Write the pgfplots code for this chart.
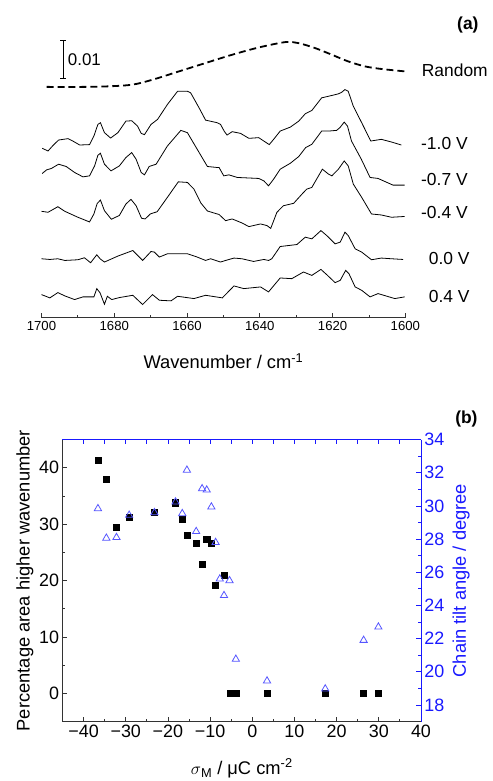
\documentclass[border=0pt]{standalone}
\usepackage{pgfplots}
\pgfplotsset{compat=1.18}
\usepackage{fontspec}
\setmainfont{Liberation Sans}
\definecolor{myblue}{RGB}{25,25,255}
\definecolor{triblue}{RGB}{85,85,255}
\begin{document}
\begin{tikzpicture}
\path (0pt,0pt) rectangle (495pt,-781pt);
% ---------------- panel (a) ----------------
\begin{axis}[
  at={(41.7pt,-319.3pt)}, anchor=south west,
  scale only axis, width=365.6pt, height=284.3pt,
  xmin=1600, xmax=1700, x dir=reverse,
  ymin=10.7, ymax=295,
  hide y axis, axis x line*=bottom, axis line style={-, line width=0.8pt, black!80},
  xtick={1600,1620,...,1700}, minor xtick={1610,1630,...,1690},
  xticklabels={1600,1620,1640,1660,1680,1700},
  tick align=inside, major tick length=5pt, minor tick length=2.7pt,
  tick style={line width=0.8pt, black!80},
  tick label style={font=\fontsize{13.2}{15}\selectfont},
  xlabel={Wavenumber / cm\textsuperscript{-1}},
  xlabel style={font=\fontsize{18.4}{20}\selectfont, at={(axis description cs:0.5,-0.154)}, anchor=center},
  clip=false,
]
\addplot[black, line width=1.8pt, dash pattern=on 7pt off 4pt, smooth] coordinates {
(1698.6,242.7) (1688.6,242.7) (1681.3,243.3) (1674.9,245) (1669.4,250) (1662.2,258.3) (1654.9,266.7) (1647.6,275) (1640.3,282.3) (1633.0,287.7) (1629.4,286.7) (1624.8,281.7) (1620.2,275) (1615.7,268.3) (1611.1,263.3) (1606.6,260.7) (1600.2,258.3)};
% -1.0 V
\addplot[black, line width=0.8pt] coordinates {
(1699.8,181) (1698.2,178.3) (1696.8,184) (1695.3,189.3) (1692.7,190.7) (1691.4,188.3) (1689.5,184.3) (1686.8,184.7) (1685.6,193.3) (1684.5,205) (1683.8,206.7) (1682.7,196.7) (1681.0,191.3) (1679.0,196.7) (1676.8,208.3) (1675.2,208.7) (1673.6,203.3) (1672.6,196) (1671.7,194.7) (1669.9,205) (1668.1,210) (1665.4,225) (1662.6,238.3) (1659.9,238.3) (1659.0,236.7) (1656.7,221.7) (1654.9,209.3) (1651.7,206.7) (1650.8,205) (1649.7,197.7) (1649.0,194.3) (1647.6,197.7) (1645.3,196) (1643.0,191) (1640.3,191.7) (1638.9,188.3) (1637.4,184.7) (1636.2,190) (1634.4,198.3) (1631.6,202.3) (1629.3,208.3) (1627.5,215.7) (1625.7,219) (1623.0,231.7) (1621.1,233.3) (1618.4,235.7) (1617.5,237.3) (1616.6,240) (1615.7,238.3) (1614.3,223.3) (1612.0,206.7) (1609.5,188.3) (1606.6,190) (1603.8,187.3) (1601.1,184.3)};
% -0.7 V
\addplot[black, line width=0.8pt] coordinates {
(1699.8,155.7) (1698.6,159.3) (1697.3,160.7) (1695.3,165) (1693.2,162.7) (1690.9,156.7) (1688.6,152.3) (1686.8,153.3) (1685.4,163.3) (1684.5,174) (1683.8,176) (1682.7,165) (1680.9,158.3) (1678.6,163.3) (1676.8,171.7) (1675.2,176.7) (1674.0,170) (1672.6,156.7) (1671.7,154.3) (1670.4,162.7) (1668.5,165) (1665.4,183.3) (1661.7,199) (1659.9,196.7) (1657.2,180) (1654.4,162.7) (1651.7,161.7) (1651.2,161.7) (1649.9,153.3) (1648.5,154.3) (1647.6,153.3) (1646.2,151.7) (1640.3,150.7) (1638.9,148.3) (1637.6,143.3) (1636.2,150) (1634.4,160) (1631.6,166) (1629.3,172.7) (1627.4,181.7) (1625.7,185) (1623.0,198.3) (1621.1,198.3) (1618.9,199) (1618.0,201.7) (1616.8,207.3) (1615.9,203.3) (1614.8,188.3) (1612.1,170) (1609.7,151.7) (1607.5,150.7) (1603.4,144) (1600.2,144)};
% -0.4 V
\addplot[black, line width=0.8pt] coordinates {
(1700.0,117.7) (1698.2,116.7) (1695.5,122.3) (1693.6,117.7) (1690.0,111.7) (1686.8,107) (1685.6,115) (1684.7,125.5) (1683.8,129) (1682.7,118.3) (1680.8,109.7) (1678.6,113.5) (1676.8,125) (1675.4,129.7) (1674.0,123.3) (1672.5,110.7) (1671.5,110) (1670.1,115) (1668.2,117.3) (1665.4,131.7) (1662.4,147.3) (1659.9,146.7) (1658.1,140) (1656.2,126) (1654.4,118) (1651.7,115) (1651.2,114.5) (1649.4,108.3) (1647.6,110) (1644.9,106) (1643.0,102.3) (1639.8,105) (1638.0,103.3) (1637.0,100.5) (1635.3,116.7) (1633.5,123.3) (1630.7,125.7) (1628.4,135) (1627.1,140) (1625.7,141.7) (1622.8,160) (1621.1,155) (1620.2,153.3) (1618.4,160) (1616.8,168.3) (1615.7,163.3) (1614.3,145) (1612.0,131.7) (1609.3,115) (1606.6,114) (1603.8,111.7) (1600.2,112.5)};
% 0.0 V
\addplot[black, line width=0.8pt] coordinates {
(1700.0,70) (1697.7,69.3) (1695.5,70) (1693.6,68.3) (1690.0,69) (1688.2,71) (1686.5,66) (1684.8,74) (1683.9,70) (1682.7,66.7) (1679.0,72.7) (1674.9,78.3) (1672.2,68.3) (1669.9,77.3) (1669.0,76.7) (1667.6,71.7) (1665.4,75) (1659.9,75) (1657.2,71.7) (1654.9,68.3) (1653.5,70) (1650.8,66.7) (1649.4,68.3) (1647.1,70.7) (1644.9,70) (1641.7,67.3) (1638.9,69.3) (1637.6,68.3) (1636.7,70) (1634.4,82.3) (1629.8,84.3) (1627.5,91.7) (1625.7,90) (1623.2,98.3) (1621.6,93.3) (1619.3,85) (1617.9,86.7) (1616.6,96.7) (1615.7,93.3) (1613.8,80) (1612.0,76.7) (1609.3,69) (1606.6,70.7) (1603.8,70) (1600.6,69.3)};
% 0.4 V
\addplot[black, line width=0.8pt] coordinates {
(1700.0,34) (1697.7,30.7) (1695.5,36) (1693.6,32.7) (1690.9,29) (1688.6,31.7) (1685.6,31.7) (1684.8,40) (1683.9,35.7) (1682.7,24.3) (1681.9,32.3) (1680.7,29) (1678.6,31) (1674.9,33.3) (1672.2,24) (1669.5,34) (1667.6,28.3) (1664.4,27.7) (1662.6,32.3) (1658.1,30) (1654.9,33.3) (1650.3,30.7) (1647.1,42.7) (1644.4,40) (1639.8,41.7) (1637.6,36.7) (1634.4,50.7) (1631.2,50) (1628.0,56.7) (1625.7,53.3) (1623.2,59.3) (1621.6,54) (1619.3,46) (1617.9,48.3) (1616.4,58.3) (1615.5,55) (1613.8,41.7) (1612.0,38.3) (1609.7,31.7) (1607.5,35) (1602.9,30) (1600.2,31.7)};
% scale bar
\draw[black, line width=0.9pt] (axis cs:1694.1,251) -- (axis cs:1694.1,289.3);
\draw[black, line width=0.9pt] (axis cs:1694.9,251) -- (axis cs:1693.3,251);
\draw[black, line width=0.9pt] (axis cs:1694.9,289.3) -- (axis cs:1693.3,289.3);
\node[anchor=west, inner sep=0pt, font=\fontsize{17}{19}\selectfont] at (axis cs:1692.8,270) {0.01};
% curve labels
\node[anchor=west, inner sep=0pt, font=\fontsize{17.5}{19}\selectfont] at (axis cs:1595.5,259) {Random};
\node[anchor=west, inner sep=0pt, font=\fontsize{17.5}{19}\selectfont] at (axis cs:1595.7,186) {-1.0 V};
\node[anchor=west, inner sep=0pt, font=\fontsize{17.5}{19}\selectfont] at (axis cs:1595.7,150) {-0.7 V};
\node[anchor=west, inner sep=0pt, font=\fontsize{17.5}{19}\selectfont] at (axis cs:1595.7,116.7) {-0.4 V};
\node[anchor=east, inner sep=0pt, font=\fontsize{17.5}{19}\selectfont] at (axis cs:1582.3,70) {0.0 V};
\node[anchor=east, inner sep=0pt, font=\fontsize{17.5}{19}\selectfont] at (axis cs:1582.3,31.7) {0.4 V};
\end{axis}
\node[anchor=east, inner sep=0pt, font=\bfseries\fontsize{17.5}{19}\selectfont] at (481pt,-25pt) {(a)};
% ---------------- panel (b) ----------------
\begin{axis}[
  at={(62.8pt,-725pt)}, anchor=south west,
  scale only axis, width=360.2pt, height=283.3pt,
  xmin=-45, xmax=40, ymin=-5, ymax=45,
  axis x line*=bottom, axis y line*=left, axis line style={-, line width=0.8pt, black!80},
  xtick={-40,-30,...,40}, minor xtick={-35,-25,...,35},
  xticklabels={−40,−30,−20,−10,0,10,20,30,40},
  ytick={0,10,...,40}, minor ytick={5,15,25,35},
  yticklabels={0,10,20,30,40},
  tick align=inside, major tick length=4.5pt, minor tick length=3pt,
  tick style={line width=0.8pt, black!80},
  tick label style={font=\fontsize{18}{20}\selectfont},
  xlabel={$\sigma$\textsubscript{M} / μC cm\textsuperscript{-2}},
  xlabel style={font=\fontsize{18.4}{20}\selectfont, at={(axis description cs:0.5,-0.166)}, anchor=center},
  ylabel={Percentage area higher wavenumber},
  ylabel style={font=\fontsize{18.4}{20}\selectfont, at={(axis description cs:-0.105,0.5)}, anchor=center},
  clip=false,
]
\addplot[only marks, mark=square*, mark size=3.1pt, black] coordinates {
(-36.6,41.4) (-34.6,38.0) (-32.2,29.4) (-29.2,31.2) (-23.2,32.1) (-18.2,33.8) (-16.6,30.9) (-15.5,28.1) (-13.3,26.6) (-11.8,22.9) (-10.8,27.4) (-9.7,26.6) (-8.7,19.2) (-6.7,21.0) (-5.2,0) (-3.8,0) (3.5,0) (17.3,0) (26.4,0) (29.9,0)};
\end{axis}
\begin{axis}[
  at={(62.8pt,-725pt)}, anchor=south west,
  scale only axis, width=360.2pt, height=283.3pt,
  xmin=-45, xmax=40, ymin=17, ymax=34,
  axis x line*=top, axis y line*=right, axis line style={-, line width=0.8pt, myblue},
  xtick={-40,-35,...,40}, xticklabels={},
  ytick={18,20,...,34}, minor ytick={19,21,...,33},
  yticklabels={18,20,22,24,26,28,30,32,34},
  tick align=inside, major tick length=4.5pt, minor tick length=3pt,
  tick style={line width=0.8pt, myblue},
  tick label style={font=\fontsize{18}{20}\selectfont, myblue},
  ylabel={Chain tilt angle / degree},
  ylabel style={font=\fontsize{18.4}{20}\selectfont, myblue, at={(axis description cs:1.112,0.5)}, anchor=center},
  clip=false,
]
\addplot[only marks, mark=triangle, mark size=4.2pt, triblue, mark options={line width=0.8pt}] coordinates {
(-36.6,29.84) (-34.6,28.06) (-32.2,28.1) (-29.2,29.44) (-23.2,29.6) (-18.2,30.24) (-16.6,29.54) (-15.5,32.16) (-13.3,28.46) (-11.9,31.04) (-10.8,30.96) (-9.7,29.94) (-8.7,27.8) (-7.7,25.6) (-6.7,24.6) (-5.4,25.5) (-3.9,20.76) (3.5,19.45) (17.3,18.97) (26.4,21.9) (29.9,22.7)};
\end{axis}
\node[anchor=east, inner sep=0pt, font=\bfseries\fontsize{17.5}{19}\selectfont] at (480pt,-420.7pt) {(b)};
\end{tikzpicture}
\end{document}
